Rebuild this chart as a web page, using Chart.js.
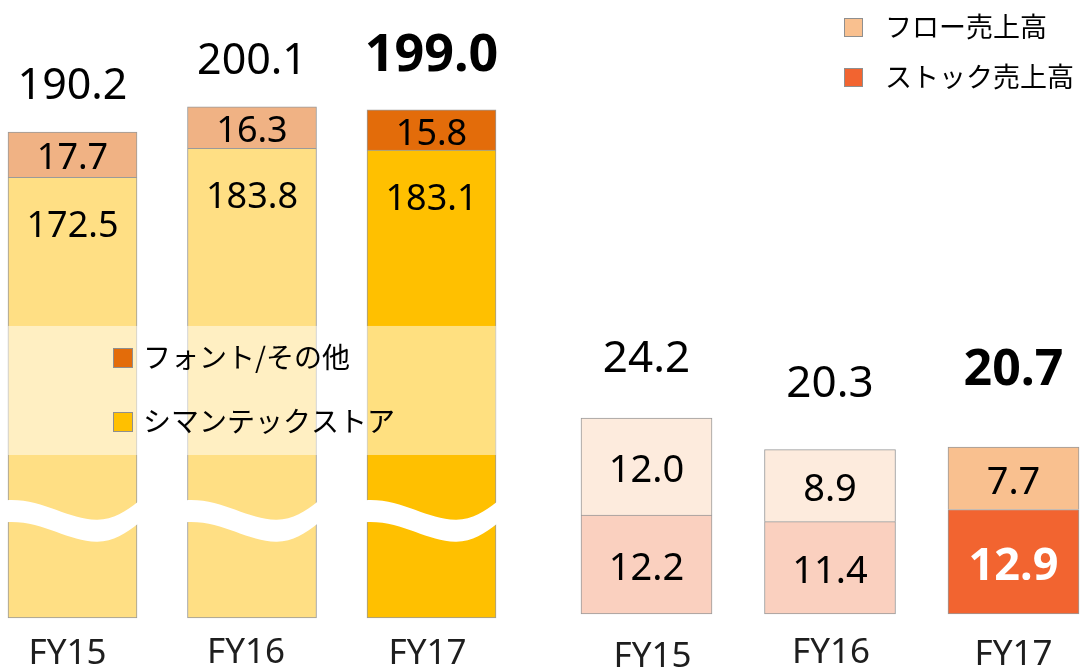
<!DOCTYPE html>
<html>
<head>
<meta charset="utf-8">
<script src="https://cdn.jsdelivr.net/npm/chart.js@4.4.1/dist/chart.umd.min.js"></script>
<style>
html,body{margin:0;padding:0;background:#ffffff;}
#wrap{position:relative;width:1083px;height:668px;overflow:hidden;background:#fff;}
#wrap canvas{position:absolute;left:0;top:0;}
</style>
</head>
<body>
<div id="wrap">
<canvas id="c1" width="1083" height="668"></canvas>
<canvas id="c2" width="1083" height="668"></canvas>
</div>
<script>
// ---- data ----
const categories = ['FY15', 'FY16', 'FY17'];
// left group (product)
const symantecStore = [172.5, 183.8, 183.1];
const fontOther = [17.7, 16.3, 15.8];
const productTotals = [190.2, 200.1, 199.0];
// right group (service)
const stockSales = [12.2, 11.4, 12.9];
const flowSales = [12.0, 8.9, 7.7];
const serviceTotals = [24.2, 20.3, 20.7];
// legend texts
const leftLegendLabels = ['フォント/その他', 'シマンテックストア'];
const rightLegendLabels = ['フロー売上高', 'ストック売上高'];
const highlightIndex = 2;

const LATIN = '"Noto Sans", "DejaVu Sans", sans-serif';
const CJK = '"Noto Sans CJK JP", "Noto Sans", sans-serif';
const BORDER = '#9a9a9a';
const CAP = 0.714;

function fmt(v){ return v.toFixed(1); }

function drawLabels(chart, o){
  const ctx = chart.ctx;
  ctx.save();
  ctx.textAlign = 'center';
  ctx.textBaseline = 'alphabetic';
  const metas = chart.data.datasets.map((d, k) => chart.getDatasetMeta(k));
  // segment labels
  metas.forEach((meta, k) => {
    meta.data.forEach((el, i) => {
      const v = chart.data.datasets[k].data[i];
      let size = o.segSize, weight = 'normal', color = '#000';
      if (o.segBold && o.segBold(k, i)) { size = o.segBoldSize; weight = 'bold'; color = o.segBoldColor; }
      ctx.font = weight + ' ' + size + 'px ' + LATIN;
      ctx.fillStyle = color;
      let y;
      if (o.bottomFromTop && k === 0) y = el.y + o.bottomFromTop;
      else y = (el.y + el.base) / 2 + 2 + size * CAP / 2;
      ctx.fillText(fmt(v), el.x, y);
    });
  });
  // totals
  const top = metas[metas.length - 1];
  top.data.forEach((el, i) => {
    const bold = i === highlightIndex;
    ctx.font = (bold ? 'bold ' + o.totBoldSize : 'normal ' + o.totSize) + 'px ' + LATIN;
    ctx.fillStyle = '#000';
    ctx.fillText(fmt(o.totals[i]), el.x, el.y - o.lifts[i]);
  });
  // category labels
  ctx.font = 'normal 35px ' + LATIN;
  ctx.fillStyle = '#1e1e1e';
  metas[0].data.forEach((el, i) => {
    ctx.fillText(chart.data.labels[i], el.x + (o.catShift ? o.catShift[i] : 0), o.catBaseline[i]);
  });
  ctx.restore();
}

function legendItem(ctx, x, y, size, color, text, font, gap){
  ctx.fillStyle = color;
  ctx.fillRect(x, y, size, size);
  ctx.strokeStyle = '#8f8f8f';
  ctx.lineWidth = 1;
  ctx.strokeRect(x + 0.5, y + 0.5, size - 1, size - 1);
  ctx.fillStyle = '#000';
  ctx.font = font;
  ctx.textAlign = 'left';
  ctx.textBaseline = 'middle';
  ctx.fillText(text, x + size + gap, y + size / 2 - 1);
}

// ---- left chart decorations: wave breaks, translucent band, legend ----
const leftDecor = {
  id: 'leftDecor',
  afterDatasetsDraw(chart){
    const ctx = chart.ctx;
    const ys = chart.scales.y;
    const bars = chart.getDatasetMeta(0).data;
    ctx.save();
    // wave breaks
    const anchor = ys.getPixelForValue(43);
    const th = 22;
    bars.forEach(el => {
      const w = el.width, x0 = el.x - w / 2 - 1, W = w + 2;
      const P = (fx, dy) => [x0 + fx * W, anchor + dy];
      const pts = [P(0, -8), P(0.27, -10), P(0.47, 12), P(0.69, 11.5), P(0.81, 11.5), P(0.91, 3), P(1, -6.5)];
      ctx.beginPath();
      ctx.moveTo(pts[0][0], pts[0][1]);
      ctx.bezierCurveTo(pts[1][0], pts[1][1], pts[2][0], pts[2][1], pts[3][0], pts[3][1]);
      ctx.bezierCurveTo(pts[4][0], pts[4][1], pts[5][0], pts[5][1], pts[6][0], pts[6][1]);
      ctx.lineTo(pts[6][0], pts[6][1] + th);
      ctx.bezierCurveTo(pts[5][0], pts[5][1] + th, pts[4][0], pts[4][1] + th, pts[3][0], pts[3][1] + th);
      ctx.bezierCurveTo(pts[2][0], pts[2][1] + th, pts[1][0], pts[1][1] + th, pts[0][0], pts[0][1] + th);
      ctx.closePath();
      ctx.fillStyle = '#ffffff';
      ctx.fill();
    });
    // translucent band
    const first = bars[0], last = bars[bars.length - 1];
    const bx0 = first.x - first.width / 2, bx1 = last.x + last.width / 2;
    const by0 = ys.getPixelForValue(114.3), by1 = ys.getPixelForValue(63.8);
    ctx.fillStyle = 'rgba(255,255,255,0.5)';
    ctx.fillRect(bx0, by0, bx1 - bx0, by1 - by0);
    // legend in band
    const ds = chart.data.datasets;
    const font = 'normal 28px ' + CJK;
    legendItem(ctx, 113, 348, 20, ds[1].backgroundColor[highlightIndex], leftLegendLabels[0], font, 10);
    legendItem(ctx, 113, 412, 20, ds[0].backgroundColor[highlightIndex], leftLegendLabels[1], font, 10);
    ctx.restore();
    drawLabels(chart, {
      segSize: 36, bottomFromTop: 60,
      totSize: 43, totBoldSize: 52, totals: productTotals, lifts: [33, 33, 39],
      catBaseline: [664, 663, 664], catShift: [-5, -6, -4]
    });
  }
};

// ---- right chart decorations: legend + labels ----
const rightDecor = {
  id: 'rightDecor',
  afterDatasetsDraw(chart){
    const ctx = chart.ctx;
    ctx.save();
    const ds = chart.data.datasets;
    const font = 'normal 27px ' + CJK;
    legendItem(ctx, 844, 18, 19, ds[1].backgroundColor[highlightIndex], rightLegendLabels[0], font, 22);
    legendItem(ctx, 844, 68, 19, ds[0].backgroundColor[highlightIndex], rightLegendLabels[1], font, 22);
    ctx.restore();
    drawLabels(chart, {
      segSize: 38, segBold: (k, i) => k === 0 && i === highlightIndex, segBoldSize: 45, segBoldColor: '#ffffff',
      totSize: 44, totBoldSize: 50, totals: serviceTotals, lifts: [46, 53, 62],
      catBaseline: [667, 663, 665], catShift: [6, 1, 0]
    });
  }
};

const topBorder = {top: 1, left: 1, right: 1, bottom: 0};

new Chart(document.getElementById('c1'), {
  type: 'bar',
  data: {
    labels: categories,
    datasets: [
      { label: leftLegendLabels[1], data: symantecStore,
        backgroundColor: ['#FFDF84', '#FFDF84', '#FFC000'],
        borderColor: BORDER, borderWidth: 1, borderSkipped: false,
        barThickness: 129, clip: false },
      { label: leftLegendLabels[0], data: fontOther,
        backgroundColor: ['#F0B284', '#F0B284', '#E36C0A'],
        borderColor: BORDER, borderWidth: topBorder, borderSkipped: false,
        barThickness: 129, clip: false }
    ]
  },
  options: {
    responsive: false, animation: false, devicePixelRatio: 1,
    layout: { padding: { left: 72.5, right: 1083 - 431.5, top: 15, bottom: 50 } },
    scales: {
      x: { display: false, offset: false, stacked: true },
      y: { display: false, stacked: true, min: 0, max: 236 }
    },
    plugins: { legend: { display: false }, tooltip: { enabled: false } }
  },
  plugins: [leftDecor]
});

new Chart(document.getElementById('c2'), {
  type: 'bar',
  data: {
    labels: categories,
    datasets: [
      { label: rightLegendLabels[1], data: stockSales,
        backgroundColor: ['#FAD0BF', '#FAD0BF', '#F26430'],
        borderColor: BORDER, borderWidth: 1, borderSkipped: false,
        barThickness: 131, clip: false },
      { label: rightLegendLabels[0], data: flowSales,
        backgroundColor: ['#FDEBDD', '#FDEBDD', '#F9C08F'],
        borderColor: BORDER, borderWidth: topBorder, borderSkipped: false,
        barThickness: 131, clip: false }
    ]
  },
  options: {
    responsive: false, animation: false, devicePixelRatio: 1,
    layout: { padding: { left: 646.5, right: 1083 - 1013.5, top: 47, bottom: 54 } },
    scales: {
      x: { display: false, offset: false, stacked: true },
      y: { display: false, stacked: true, min: 0, max: 70 }
    },
    plugins: { legend: { display: false }, tooltip: { enabled: false } }
  },
  plugins: [rightDecor]
});
</script>
</body>
</html>
